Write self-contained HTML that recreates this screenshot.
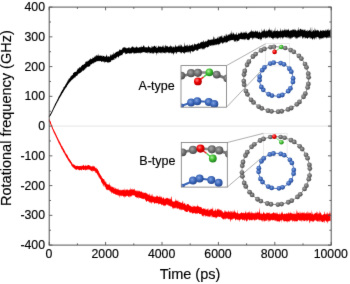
<!DOCTYPE html>
<html><head><meta charset="utf-8"><style>
html,body{margin:0;padding:0;background:#fff;width:350px;height:284px;overflow:hidden}
svg{display:block}
text{font-family:"Liberation Sans",Arial,sans-serif;fill:#000;stroke:#000;stroke-width:0.15px}
</style></head><body>
<svg width="350" height="284" viewBox="0 0 350 284">
<defs>
<radialGradient id="ggray" cx="0.4" cy="0.38" r="0.65"><stop offset="0" stop-color="#a8a8a8"/><stop offset="0.55" stop-color="#6e6e6e"/><stop offset="1" stop-color="#474747"/></radialGradient>
<radialGradient id="gblue" cx="0.4" cy="0.38" r="0.65"><stop offset="0" stop-color="#7fa2e0"/><stop offset="0.55" stop-color="#3a65b8"/><stop offset="1" stop-color="#22448a"/></radialGradient>
<radialGradient id="gred" cx="0.38" cy="0.35" r="0.65"><stop offset="0" stop-color="#ff8080"/><stop offset="0.5" stop-color="#f00000"/><stop offset="1" stop-color="#b00000"/></radialGradient>
<radialGradient id="ggreen" cx="0.38" cy="0.35" r="0.65"><stop offset="0" stop-color="#b0f0a0"/><stop offset="0.5" stop-color="#40c030"/><stop offset="1" stop-color="#208020"/></radialGradient>
<filter id="bl" x="0" y="0" width="1" height="1" color-interpolation-filters="sRGB"><feConvolveMatrix order="3" kernelMatrix="0.0052 0.0619 0.0052 0.0619 0.7314 0.0619 0.0052 0.0619 0.0052" edgeMode="duplicate"/></filter></defs>
<rect width="350" height="284" fill="#fff"/>
<g filter="url(#bl)">
<rect width="350" height="284" fill="#fff"/>
<line x1="49.2" y1="126.10" x2="331.2" y2="126.10" stroke="#e0e0e0" stroke-width="0.8"/>
<polygon points="48.9,115.8 49.2,115.4 49.5,115.1 49.8,114.7 50.1,114.3 50.4,113.7 50.7,113.2 51.0,112.5 51.3,112.2 51.6,111.5 51.9,110.9 52.2,110.2 52.5,109.8 52.8,109.0 53.1,108.3 53.4,107.8 53.7,106.7 54.0,106.4 54.3,105.8 54.6,105.2 54.9,104.3 55.2,103.7 55.5,103.1 55.8,102.7 56.1,102.2 56.4,101.6 56.7,101.0 57.0,100.5 57.3,99.8 57.6,99.0 57.9,98.7 58.2,97.9 58.5,96.8 58.8,96.7 59.1,96.1 59.4,95.5 59.7,95.2 60.0,94.4 60.3,94.0 60.6,93.2 60.9,92.6 61.2,91.8 61.5,91.7 61.8,91.1 62.1,90.3 62.4,90.1 62.7,89.4 63.0,89.3 63.3,88.6 63.6,87.0 63.9,87.2 64.2,87.0 64.5,86.6 64.8,86.0 65.1,85.5 65.4,84.9 65.7,84.3 66.0,84.1 66.3,83.5 66.6,82.8 66.9,82.5 67.2,81.9 67.5,81.3 67.8,80.2 68.1,80.7 68.4,79.4 68.7,79.3 69.0,78.3 69.3,78.8 69.6,78.3 69.9,78.0 70.2,77.6 70.5,77.1 70.8,76.0 71.1,76.4 71.4,75.1 71.7,76.0 72.0,75.4 72.3,74.9 72.6,74.9 72.9,74.5 73.2,72.7 73.5,73.0 73.8,73.0 74.1,72.1 74.4,72.6 74.7,72.0 75.0,72.0 75.3,72.1 75.6,71.4 75.9,71.9 76.2,71.7 76.5,71.5 76.8,70.7 77.1,69.7 77.4,70.1 77.7,68.5 78.0,68.7 78.3,68.6 78.6,68.5 78.9,68.2 79.2,68.3 79.5,67.1 79.8,66.9 80.1,67.8 80.4,67.3 80.7,67.3 81.0,66.6 81.3,65.6 81.6,65.9 81.9,66.5 82.2,64.6 82.5,65.1 82.8,65.0 83.1,64.7 83.4,64.9 83.7,64.4 84.0,64.3 84.3,64.1 84.6,63.9 84.9,63.4 85.2,63.5 85.5,61.4 85.8,61.8 86.1,62.3 86.4,60.8 86.7,61.8 87.0,61.8 87.3,61.9 87.6,60.6 87.9,61.0 88.2,60.6 88.5,61.2 88.8,60.6 89.1,59.3 89.4,59.3 89.7,60.6 90.0,59.6 90.3,59.2 90.6,58.1 90.9,58.8 91.2,59.2 91.5,58.9 91.8,59.0 92.1,58.6 92.4,58.7 92.7,57.7 93.0,56.8 93.3,58.3 93.6,57.7 93.9,57.8 94.2,57.5 94.5,56.6 94.8,56.5 95.1,56.2 95.4,56.7 95.7,56.3 96.0,54.9 96.3,54.7 96.6,55.5 96.9,56.4 97.2,54.5 97.5,55.6 97.8,55.9 98.1,56.1 98.4,55.7 98.7,53.5 99.0,55.6 99.3,55.5 99.6,55.8 99.9,56.0 100.2,55.1 100.5,55.9 100.8,55.4 101.1,56.1 101.4,55.3 101.7,56.0 102.0,55.9 102.3,55.0 102.6,56.7 102.9,56.4 103.2,56.1 103.5,55.9 103.8,55.8 104.1,55.8 104.4,57.1 104.7,56.3 105.0,56.4 105.3,56.4 105.6,57.0 105.9,56.3 106.2,55.9 106.5,53.9 106.8,55.2 107.1,56.9 107.4,55.6 107.7,57.4 108.0,56.3 108.3,56.7 108.6,56.0 108.9,56.5 109.2,55.7 109.5,57.2 109.8,57.0 110.1,55.9 110.4,54.6 110.7,53.9 111.0,56.1 111.3,55.6 111.6,54.8 111.9,54.5 112.2,54.3 112.5,54.9 112.8,54.1 113.1,54.8 113.4,54.3 113.7,52.1 114.0,53.6 114.3,53.9 114.6,53.5 114.9,53.2 115.2,52.4 115.5,52.9 115.8,52.5 116.1,51.5 116.4,51.9 116.7,52.1 117.0,52.3 117.3,51.1 117.6,51.4 117.9,51.7 118.2,51.5 118.5,51.1 118.8,51.5 119.1,49.8 119.4,50.4 119.7,49.5 120.0,48.7 120.3,50.0 120.6,50.2 120.9,49.7 121.2,49.2 121.5,49.9 121.8,50.0 122.1,49.6 122.4,47.5 122.7,48.7 123.0,47.4 123.3,47.6 123.6,47.8 123.9,47.3 124.2,47.1 124.5,47.4 124.8,47.4 125.1,47.7 125.4,47.7 125.7,47.2 126.0,48.3 126.3,48.6 126.6,48.2 126.9,47.5 127.2,48.4 127.5,48.1 127.8,48.2 128.1,47.0 128.4,47.5 128.7,48.2 129.0,47.3 129.3,47.1 129.6,48.2 129.9,48.4 130.2,47.5 130.5,48.2 130.8,48.4 131.1,47.6 131.4,46.8 131.7,48.1 132.0,46.5 132.3,47.0 132.6,46.2 132.9,46.4 133.2,46.9 133.5,47.9 133.8,46.6 134.1,47.7 134.4,47.2 134.7,48.0 135.0,47.4 135.3,46.8 135.6,47.9 135.9,47.7 136.2,45.4 136.5,47.1 136.8,47.2 137.1,47.3 137.4,47.7 137.7,46.7 138.0,48.1 138.3,47.9 138.6,47.8 138.9,47.1 139.2,47.6 139.5,47.3 139.8,46.9 140.1,46.8 140.4,47.7 140.7,46.8 141.0,46.8 141.3,47.7 141.6,45.3 141.9,46.9 142.2,47.1 142.5,46.7 142.8,47.3 143.1,46.3 143.4,44.7 143.7,46.3 144.0,45.3 144.3,46.5 144.6,46.5 144.9,47.7 145.2,47.4 145.5,47.3 145.8,47.1 146.1,47.3 146.4,46.9 146.7,47.7 147.0,47.1 147.3,47.3 147.6,47.4 147.9,47.7 148.2,45.0 148.5,46.8 148.8,46.0 149.1,47.2 149.4,47.3 149.7,47.2 150.0,47.0 150.3,46.9 150.6,48.4 150.9,47.8 151.2,47.9 151.5,47.6 151.8,45.5 152.1,46.6 152.4,47.7 152.7,46.5 153.0,46.0 153.3,47.3 153.6,46.3 153.9,46.6 154.2,46.1 154.5,45.8 154.8,45.5 155.1,46.4 155.4,47.2 155.7,46.0 156.0,46.8 156.3,45.3 156.6,47.9 156.9,48.1 157.2,47.7 157.5,47.4 157.8,47.5 158.1,45.7 158.4,45.4 158.7,46.9 159.0,46.2 159.3,46.9 159.6,46.1 159.9,47.1 160.2,46.8 160.5,46.2 160.8,46.6 161.1,47.0 161.4,47.1 161.7,47.6 162.0,45.2 162.3,46.7 162.6,46.9 162.9,45.3 163.2,46.9 163.5,47.4 163.8,44.5 164.1,46.3 164.4,46.2 164.7,48.0 165.0,47.9 165.3,44.8 165.6,46.6 165.9,44.3 166.2,46.5 166.5,45.8 166.8,46.6 167.1,46.4 167.4,45.8 167.7,46.0 168.0,47.3 168.3,47.2 168.6,46.5 168.9,47.2 169.2,47.1 169.5,46.3 169.8,46.2 170.1,47.6 170.4,44.4 170.7,46.0 171.0,46.1 171.3,47.0 171.6,46.0 171.9,46.6 172.2,46.2 172.5,47.4 172.8,47.9 173.1,46.0 173.4,46.7 173.7,47.2 174.0,47.0 174.3,47.5 174.6,47.5 174.9,45.8 175.2,47.1 175.5,44.7 175.8,44.8 176.1,46.9 176.4,47.1 176.7,46.0 177.0,46.2 177.3,46.8 177.6,46.4 177.9,46.2 178.2,46.3 178.5,46.2 178.8,45.0 179.1,44.6 179.4,46.4 179.7,46.4 180.0,44.6 180.3,46.6 180.6,46.5 180.9,43.8 181.2,45.0 181.5,44.7 181.8,46.3 182.1,46.5 182.4,46.3 182.7,46.5 183.0,47.4 183.3,46.2 183.6,46.9 183.9,46.5 184.2,44.6 184.5,42.0 184.8,46.8 185.1,45.4 185.4,46.3 185.7,45.4 186.0,45.6 186.3,44.8 186.6,46.7 186.9,45.2 187.2,46.7 187.5,44.2 187.8,44.8 188.1,46.2 188.4,45.2 188.7,46.5 189.0,46.3 189.3,44.0 189.6,45.0 189.9,46.3 190.2,45.2 190.5,45.7 190.8,45.8 191.1,44.9 191.4,44.9 191.7,45.7 192.0,44.7 192.3,44.0 192.6,44.4 192.9,45.5 193.2,46.7 193.5,45.3 193.8,44.8 194.1,44.4 194.4,43.8 194.7,42.9 195.0,45.0 195.3,44.1 195.6,44.0 195.9,44.5 196.2,44.4 196.5,44.6 196.8,44.5 197.1,43.7 197.4,44.0 197.7,44.1 198.0,42.6 198.3,43.4 198.6,42.5 198.9,44.0 199.2,43.3 199.5,43.9 199.8,43.5 200.1,42.0 200.4,42.8 200.7,42.7 201.0,42.5 201.3,41.2 201.6,41.9 201.9,42.5 202.2,41.5 202.5,41.7 202.8,41.9 203.1,42.8 203.4,40.2 203.7,40.4 204.0,41.4 204.3,41.8 204.6,42.4 204.9,41.8 205.2,41.9 205.5,40.4 205.8,41.3 206.1,41.5 206.4,41.7 206.7,40.4 207.0,41.7 207.3,38.9 207.6,40.7 207.9,41.1 208.2,38.9 208.5,39.7 208.8,39.5 209.1,39.8 209.4,40.2 209.7,40.2 210.0,39.0 210.3,40.0 210.6,39.7 210.9,39.8 211.2,39.5 211.5,39.4 211.8,39.7 212.1,39.1 212.4,39.7 212.7,39.7 213.0,38.7 213.3,36.8 213.6,36.1 213.9,39.7 214.2,39.7 214.5,38.5 214.8,36.7 215.1,38.5 215.4,39.1 215.7,39.1 216.0,38.6 216.3,38.8 216.6,39.3 216.9,38.1 217.2,37.5 217.5,38.4 217.8,36.9 218.1,36.0 218.4,37.6 218.7,38.9 219.0,37.9 219.3,35.7 219.6,37.5 219.9,36.9 220.2,36.1 220.5,37.0 220.8,36.2 221.1,35.7 221.4,36.4 221.7,36.6 222.0,34.3 222.3,36.8 222.6,37.4 222.9,38.1 223.2,38.1 223.5,37.1 223.8,35.9 224.1,35.2 224.4,35.8 224.7,35.9 225.0,36.5 225.3,36.6 225.6,36.2 225.9,33.6 226.2,35.0 226.5,36.1 226.8,33.5 227.1,34.4 227.4,35.6 227.7,36.0 228.0,35.8 228.3,34.3 228.6,34.2 228.9,35.3 229.2,33.4 229.5,34.7 229.8,34.5 230.1,34.9 230.4,33.9 230.7,32.5 231.0,33.3 231.3,33.7 231.6,30.0 231.9,33.9 232.2,34.8 232.5,31.7 232.8,34.8 233.1,33.4 233.4,32.3 233.7,33.2 234.0,33.9 234.3,33.8 234.6,33.9 234.9,35.6 235.2,33.6 235.5,34.9 235.8,34.0 236.1,35.1 236.4,33.6 236.7,31.4 237.0,34.8 237.3,35.0 237.6,34.9 237.9,34.1 238.2,32.2 238.5,34.5 238.8,33.1 239.1,33.9 239.4,33.5 239.7,33.3 240.0,33.4 240.3,33.0 240.6,33.6 240.9,31.4 241.2,31.8 241.5,32.3 241.8,33.0 242.1,33.2 242.4,32.3 242.7,33.0 243.0,34.2 243.3,31.3 243.6,32.7 243.9,33.0 244.2,32.5 244.5,32.8 244.8,32.3 245.1,32.8 245.4,32.9 245.7,30.7 246.0,33.0 246.3,32.9 246.6,32.4 246.9,31.1 247.2,33.2 247.5,33.9 247.8,33.9 248.1,32.5 248.4,33.5 248.7,32.8 249.0,33.6 249.3,31.9 249.6,32.3 249.9,32.3 250.2,31.3 250.5,31.5 250.8,31.7 251.1,31.9 251.4,30.8 251.7,29.3 252.0,31.2 252.3,31.2 252.6,31.4 252.9,31.4 253.2,30.2 253.5,32.0 253.8,31.4 254.1,32.2 254.4,31.7 254.7,31.2 255.0,32.0 255.3,30.3 255.6,31.8 255.9,30.1 256.2,31.6 256.5,31.2 256.8,32.2 257.1,31.5 257.4,31.5 257.7,30.2 258.0,32.0 258.3,32.7 258.6,32.8 258.9,31.7 259.2,32.1 259.5,32.2 259.8,30.2 260.1,32.7 260.4,32.7 260.7,32.5 261.0,32.5 261.3,31.9 261.6,32.3 261.9,28.0 262.2,32.0 262.5,30.3 262.8,31.3 263.1,31.3 263.4,30.0 263.7,31.6 264.0,28.3 264.3,31.0 264.6,28.4 264.9,30.4 265.2,31.0 265.5,31.2 265.8,31.9 266.1,28.9 266.4,31.5 266.7,30.7 267.0,30.7 267.3,31.3 267.6,31.3 267.9,30.2 268.2,29.4 268.5,29.8 268.8,30.9 269.1,27.1 269.4,29.9 269.7,29.3 270.0,30.4 270.3,30.7 270.6,30.3 270.9,29.4 271.2,29.4 271.5,30.4 271.8,31.7 272.1,29.5 272.4,31.8 272.7,32.8 273.0,30.4 273.3,32.0 273.6,30.4 273.9,31.1 274.2,31.2 274.5,30.4 274.8,29.7 275.1,26.8 275.4,31.7 275.7,31.1 276.0,31.0 276.3,30.7 276.6,31.1 276.9,30.9 277.2,31.5 277.5,29.3 277.8,30.3 278.1,31.3 278.4,31.1 278.7,31.4 279.0,30.8 279.3,31.6 279.6,30.8 279.9,31.5 280.2,30.0 280.5,27.7 280.8,31.3 281.1,29.7 281.4,31.6 281.7,31.2 282.0,30.6 282.3,29.1 282.6,30.9 282.9,30.2 283.2,30.7 283.5,30.4 283.8,30.7 284.1,27.9 284.4,30.5 284.7,30.0 285.0,29.8 285.3,31.1 285.6,28.6 285.9,30.5 286.2,30.6 286.5,30.3 286.8,28.8 287.1,30.3 287.4,30.4 287.7,29.4 288.0,29.6 288.3,30.1 288.6,28.3 288.9,30.3 289.2,30.5 289.5,31.2 289.8,30.9 290.1,30.6 290.4,30.0 290.7,31.3 291.0,29.7 291.3,30.3 291.6,30.3 291.9,30.5 292.2,29.7 292.5,28.7 292.8,31.1 293.1,29.6 293.4,29.3 293.7,29.8 294.0,30.2 294.3,28.3 294.6,30.7 294.9,29.9 295.2,30.0 295.5,28.9 295.8,30.6 296.1,29.9 296.4,31.6 296.7,30.1 297.0,31.2 297.3,30.6 297.6,30.6 297.9,29.2 298.2,26.6 298.5,30.4 298.8,29.6 299.1,30.4 299.4,30.7 299.7,28.9 300.0,29.4 300.3,28.3 300.6,29.0 300.9,29.3 301.2,29.7 301.5,29.0 301.8,30.2 302.1,30.0 302.4,30.1 302.7,29.7 303.0,28.5 303.3,30.1 303.6,30.4 303.9,30.6 304.2,29.4 304.5,29.5 304.8,30.1 305.1,30.9 305.4,31.2 305.7,28.8 306.0,30.9 306.3,30.6 306.6,30.8 306.9,31.0 307.2,31.9 307.5,29.9 307.8,29.8 308.1,31.0 308.4,31.0 308.7,30.9 309.0,29.4 309.3,30.7 309.6,30.1 309.9,30.3 310.2,26.8 310.5,30.6 310.8,31.4 311.1,29.8 311.4,31.9 311.7,32.0 312.0,26.2 312.3,31.8 312.6,31.2 312.9,31.2 313.2,30.3 313.5,30.3 313.8,30.1 314.1,31.0 314.4,27.2 314.7,31.3 315.0,31.5 315.3,29.9 315.6,30.3 315.9,28.6 316.2,30.5 316.5,30.5 316.8,30.8 317.1,30.6 317.4,29.6 317.7,30.3 318.0,30.8 318.3,30.8 318.6,30.3 318.9,30.4 319.2,31.8 319.5,31.0 319.8,32.4 320.1,31.1 320.4,30.5 320.7,29.6 321.0,31.3 321.3,30.4 321.6,30.5 321.9,31.3 322.2,30.0 322.5,31.8 322.8,30.1 323.1,30.6 323.4,30.4 323.7,30.3 324.0,30.7 324.3,31.0 324.6,30.9 324.9,29.9 325.2,30.6 325.5,29.0 325.8,31.4 326.1,30.1 326.4,31.3 326.7,30.8 327.0,28.7 327.3,30.6 327.6,29.2 327.9,30.3 328.2,30.9 328.5,28.0 328.8,30.8 329.1,29.7 329.4,30.0 329.7,31.0 330.0,30.0 330.3,28.8 330.6,30.5 330.6,37.2 330.3,38.0 330.0,37.1 329.7,37.4 329.4,37.5 329.1,37.3 328.8,37.1 328.5,37.5 328.2,38.2 327.9,37.8 327.6,37.2 327.3,37.5 327.0,38.5 326.7,37.0 326.4,38.5 326.1,38.4 325.8,37.7 325.5,37.6 325.2,36.9 324.9,36.8 324.6,37.9 324.3,37.3 324.0,38.0 323.7,37.1 323.4,38.0 323.1,38.8 322.8,38.3 322.5,38.2 322.2,38.3 321.9,37.8 321.6,38.8 321.3,39.1 321.0,37.7 320.7,39.0 320.4,37.7 320.1,39.8 319.8,39.9 319.5,37.8 319.2,38.7 318.9,38.2 318.6,38.2 318.3,37.2 318.0,36.9 317.7,36.9 317.4,37.5 317.1,36.7 316.8,36.9 316.5,39.8 316.2,37.1 315.9,37.2 315.6,37.7 315.3,38.9 315.0,37.2 314.7,40.2 314.4,37.7 314.1,40.0 313.8,37.8 313.5,38.0 313.2,38.7 312.9,39.6 312.6,39.0 312.3,40.3 312.0,38.3 311.7,38.2 311.4,38.2 311.1,38.4 310.8,39.1 310.5,38.2 310.2,37.2 309.9,36.8 309.6,38.9 309.3,37.1 309.0,37.9 308.7,37.1 308.4,38.2 308.1,37.8 307.8,38.2 307.5,38.5 307.2,39.2 306.9,38.2 306.6,38.0 306.3,37.6 306.0,38.1 305.7,37.9 305.4,39.1 305.1,37.3 304.8,37.1 304.5,39.1 304.2,36.8 303.9,37.1 303.6,37.3 303.3,38.2 303.0,38.5 302.7,36.8 302.4,38.5 302.1,39.3 301.8,36.6 301.5,36.4 301.2,35.9 300.9,35.9 300.6,36.3 300.3,37.8 300.0,37.4 299.7,36.5 299.4,36.8 299.1,38.1 298.8,37.2 298.5,37.2 298.2,37.5 297.9,37.6 297.6,37.6 297.3,39.2 297.0,37.6 296.7,38.1 296.4,39.4 296.1,37.8 295.8,37.5 295.5,39.3 295.2,37.0 294.9,36.8 294.6,36.5 294.3,38.2 294.0,36.4 293.7,37.4 293.4,36.8 293.1,36.8 292.8,37.4 292.5,37.7 292.2,37.4 291.9,39.2 291.6,37.3 291.3,37.5 291.0,38.7 290.7,39.5 290.4,37.7 290.1,37.7 289.8,39.8 289.5,37.3 289.2,37.7 288.9,39.1 288.6,37.4 288.3,36.9 288.0,38.0 287.7,35.9 287.4,38.2 287.1,38.1 286.8,36.9 286.5,38.6 286.2,37.0 285.9,37.0 285.6,37.7 285.3,37.5 285.0,36.7 284.7,37.3 284.4,37.4 284.1,36.0 283.8,37.8 283.5,37.0 283.2,38.8 282.9,37.3 282.6,39.6 282.3,38.2 282.0,37.6 281.7,37.1 281.4,37.2 281.1,38.1 280.8,37.7 280.5,36.8 280.2,39.8 279.9,37.8 279.6,37.5 279.3,37.5 279.0,37.6 278.7,38.1 278.4,37.6 278.1,39.2 277.8,37.5 277.5,39.6 277.2,38.8 276.9,37.8 276.6,38.9 276.3,37.8 276.0,37.2 275.7,39.2 275.4,37.3 275.1,37.3 274.8,37.9 274.5,37.2 274.2,38.6 273.9,37.9 273.6,38.1 273.3,40.2 273.0,38.3 272.7,39.4 272.4,38.7 272.1,38.1 271.8,38.0 271.5,38.0 271.2,37.8 270.9,38.6 270.6,37.6 270.3,36.5 270.0,37.2 269.7,37.3 269.4,38.6 269.1,36.9 268.8,36.6 268.5,38.6 268.2,36.1 267.9,37.6 267.6,38.6 267.3,37.1 267.0,37.5 266.7,37.9 266.4,37.5 266.1,38.5 265.8,39.3 265.5,38.1 265.2,37.3 264.9,38.7 264.6,37.2 264.3,36.7 264.0,38.2 263.7,38.6 263.4,37.3 263.1,37.6 262.8,37.2 262.5,37.7 262.2,37.7 261.9,39.5 261.6,38.7 261.3,38.9 261.0,41.4 260.7,38.4 260.4,39.4 260.1,40.0 259.8,38.1 259.5,38.5 259.2,39.7 258.9,39.3 258.6,39.0 258.3,39.1 258.0,39.1 257.7,38.7 257.4,37.8 257.1,38.4 256.8,38.1 256.5,38.8 256.2,37.9 255.9,37.2 255.6,37.8 255.3,37.9 255.0,39.2 254.7,37.4 254.4,37.8 254.1,37.5 253.8,38.8 253.5,37.5 253.2,38.5 252.9,40.3 252.6,39.2 252.3,38.3 252.0,37.4 251.7,38.3 251.4,37.3 251.1,38.6 250.8,38.0 250.5,37.8 250.2,37.8 249.9,38.7 249.6,39.7 249.3,39.2 249.0,39.5 248.7,40.4 248.4,39.9 248.1,39.5 247.8,40.2 247.5,39.8 247.2,39.8 246.9,38.4 246.6,38.2 246.3,39.2 246.0,39.8 245.7,39.0 245.4,40.0 245.1,38.2 244.8,39.3 244.5,39.3 244.2,40.4 243.9,39.4 243.6,38.7 243.3,39.2 243.0,40.4 242.7,39.1 242.4,39.4 242.1,38.9 241.8,38.9 241.5,39.4 241.2,39.3 240.9,38.4 240.6,39.3 240.3,38.9 240.0,39.2 239.7,39.2 239.4,39.6 239.1,40.7 238.8,40.5 238.5,40.8 238.2,40.8 237.9,41.0 237.6,41.4 237.3,41.5 237.0,40.5 236.7,40.1 236.4,40.6 236.1,42.8 235.8,40.5 235.5,41.0 235.2,42.0 234.9,41.6 234.6,42.2 234.3,40.3 234.0,41.5 233.7,40.3 233.4,39.8 233.1,39.7 232.8,40.3 232.5,39.9 232.2,39.9 231.9,40.1 231.6,40.5 231.3,39.9 231.0,39.9 230.7,40.6 230.4,40.9 230.1,40.1 229.8,40.4 229.5,42.1 229.2,40.3 228.9,40.8 228.6,41.5 228.3,40.9 228.0,40.9 227.7,42.6 227.4,42.0 227.1,42.2 226.8,42.8 226.5,42.2 226.2,42.2 225.9,43.4 225.6,42.0 225.3,41.6 225.0,42.4 224.7,42.1 224.4,42.1 224.1,43.0 223.8,42.6 223.5,42.6 223.2,43.6 222.9,43.6 222.6,43.4 222.3,44.1 222.0,42.3 221.7,42.9 221.4,42.4 221.1,42.5 220.8,42.5 220.5,43.3 220.2,43.8 219.9,43.5 219.6,44.7 219.3,43.9 219.0,44.1 218.7,44.0 218.4,45.8 218.1,44.4 217.8,44.3 217.5,44.0 217.2,44.8 216.9,44.3 216.6,44.4 216.3,45.3 216.0,45.0 215.7,45.5 215.4,44.3 215.1,44.5 214.8,44.9 214.5,44.6 214.2,45.7 213.9,45.3 213.6,45.2 213.3,45.8 213.0,44.6 212.7,45.0 212.4,46.4 212.1,45.1 211.8,45.9 211.5,44.8 211.2,45.5 210.9,46.2 210.6,45.6 210.3,45.9 210.0,45.2 209.7,45.1 209.4,46.3 209.1,46.5 208.8,46.9 208.5,46.6 208.2,46.7 207.9,47.3 207.6,47.3 207.3,47.7 207.0,47.1 206.7,47.1 206.4,47.1 206.1,47.5 205.8,48.5 205.5,47.4 205.2,47.4 204.9,48.3 204.6,49.1 204.3,48.1 204.0,50.6 203.7,48.9 203.4,48.2 203.1,49.1 202.8,48.7 202.5,48.5 202.2,50.2 201.9,47.9 201.6,48.7 201.3,48.0 201.0,49.9 200.7,48.5 200.4,48.6 200.1,48.4 199.8,49.2 199.5,48.7 199.2,49.0 198.9,49.3 198.6,49.6 198.3,49.2 198.0,51.0 197.7,50.6 197.4,51.0 197.1,49.8 196.8,49.5 196.5,50.4 196.2,51.2 195.9,49.8 195.6,49.8 195.3,50.0 195.0,50.2 194.7,50.9 194.4,50.3 194.1,51.2 193.8,51.0 193.5,51.3 193.2,51.9 192.9,52.3 192.6,51.2 192.3,51.4 192.0,52.1 191.7,50.7 191.4,50.9 191.1,51.0 190.8,51.5 190.5,54.1 190.2,53.3 189.9,51.2 189.6,51.6 189.3,52.2 189.0,52.9 188.7,52.5 188.4,51.2 188.1,52.1 187.8,52.2 187.5,51.3 187.2,52.9 186.9,51.9 186.6,52.3 186.3,52.4 186.0,51.8 185.7,52.2 185.4,52.2 185.1,53.2 184.8,52.2 184.5,54.0 184.2,53.7 183.9,52.9 183.6,53.2 183.3,52.6 183.0,52.8 182.7,52.1 182.4,52.2 182.1,52.1 181.8,52.4 181.5,53.2 181.2,53.4 180.9,53.5 180.6,52.8 180.3,51.9 180.0,52.2 179.7,51.8 179.4,52.6 179.1,51.6 178.8,51.7 178.5,52.2 178.2,52.0 177.9,51.8 177.6,52.0 177.3,52.3 177.0,52.8 176.7,52.6 176.4,54.2 176.1,53.4 175.8,53.4 175.5,52.1 175.2,51.9 174.9,52.2 174.6,52.6 174.3,53.0 174.0,53.8 173.7,55.7 173.4,53.1 173.1,54.1 172.8,53.4 172.5,52.4 172.2,53.5 171.9,52.7 171.6,54.0 171.3,53.2 171.0,52.1 170.7,52.7 170.4,52.5 170.1,52.9 169.8,53.8 169.5,52.5 169.2,52.7 168.9,52.2 168.6,52.7 168.3,53.3 168.0,53.4 167.7,52.0 167.4,52.3 167.1,52.2 166.8,52.6 166.5,52.3 166.2,53.0 165.9,51.9 165.6,52.6 165.3,53.6 165.0,54.1 164.7,52.8 164.4,53.1 164.1,52.8 163.8,52.6 163.5,53.1 163.2,52.8 162.9,52.7 162.6,52.0 162.3,52.6 162.0,54.4 161.7,52.8 161.4,52.5 161.1,52.5 160.8,53.1 160.5,53.4 160.2,52.5 159.9,52.2 159.6,53.1 159.3,52.4 159.0,52.8 158.7,54.1 158.4,51.8 158.1,52.3 157.8,53.3 157.5,53.0 157.2,52.6 156.9,56.0 156.6,53.7 156.3,53.3 156.0,52.7 155.7,52.7 155.4,53.0 155.1,52.3 154.8,52.7 154.5,52.1 154.2,53.1 153.9,54.1 153.6,53.2 153.3,53.6 153.0,52.5 152.7,54.3 152.4,53.3 152.1,52.5 151.8,52.6 151.5,52.6 151.2,53.7 150.9,53.0 150.6,53.6 150.3,53.1 150.0,53.1 149.7,53.8 149.4,52.0 149.1,52.6 148.8,52.0 148.5,52.6 148.2,52.8 147.9,54.1 147.6,52.5 147.3,52.5 147.0,52.6 146.7,52.7 146.4,53.0 146.1,52.7 145.8,52.5 145.5,52.7 145.2,52.4 144.9,52.8 144.6,52.2 144.3,51.9 144.0,51.9 143.7,52.0 143.4,52.0 143.1,52.7 142.8,52.8 142.5,52.0 142.2,52.3 141.9,53.0 141.6,52.8 141.3,52.7 141.0,52.6 140.7,52.4 140.4,53.5 140.1,53.8 139.8,52.9 139.5,52.7 139.2,52.7 138.9,53.1 138.6,52.6 138.3,53.7 138.0,52.6 137.7,52.8 137.4,53.1 137.1,53.2 136.8,53.0 136.5,52.7 136.2,53.7 135.9,52.9 135.6,53.4 135.3,52.9 135.0,53.5 134.7,53.5 134.4,53.6 134.1,53.3 133.8,52.6 133.5,54.4 133.2,52.6 132.9,52.7 132.6,52.8 132.3,52.2 132.0,53.4 131.7,53.3 131.4,53.3 131.1,53.6 130.8,53.7 130.5,53.1 130.2,53.5 129.9,53.3 129.6,53.6 129.3,54.3 129.0,52.8 128.7,53.2 128.4,53.1 128.1,53.6 127.8,53.1 127.5,53.3 127.2,53.7 126.9,53.8 126.6,53.8 126.3,53.8 126.0,53.9 125.7,53.0 125.4,54.0 125.1,54.4 124.8,53.1 124.5,52.3 124.2,52.4 123.9,53.2 123.6,52.6 123.3,52.8 123.0,53.4 122.7,54.0 122.4,54.6 122.1,55.6 121.8,55.1 121.5,54.9 121.2,54.9 120.9,56.3 120.6,55.0 120.3,55.3 120.0,56.2 119.7,55.4 119.4,56.1 119.1,56.2 118.8,58.5 118.5,57.2 118.2,57.1 117.9,56.2 117.6,56.8 117.3,56.9 117.0,56.8 116.7,57.3 116.4,58.8 116.1,57.4 115.8,59.2 115.5,58.6 115.2,58.3 114.9,58.1 114.6,58.1 114.3,60.0 114.0,60.1 113.7,59.3 113.4,59.8 113.1,59.9 112.8,60.4 112.5,60.2 112.2,59.8 111.9,60.1 111.6,59.9 111.3,60.7 111.0,61.6 110.7,62.0 110.4,61.7 110.1,61.9 109.8,62.0 109.5,62.6 109.2,62.2 108.9,62.4 108.6,61.9 108.3,63.0 108.0,62.4 107.7,62.8 107.4,62.2 107.1,62.5 106.8,62.1 106.5,61.6 106.2,62.1 105.9,62.3 105.6,61.9 105.3,62.2 105.0,61.4 104.7,61.5 104.4,63.4 104.1,62.1 103.8,61.5 103.5,62.2 103.2,61.2 102.9,61.4 102.6,61.7 102.3,61.0 102.0,61.4 101.7,61.9 101.4,61.4 101.1,61.9 100.8,60.7 100.5,60.9 100.2,60.9 99.9,61.1 99.6,61.4 99.3,60.6 99.0,61.8 98.7,60.7 98.4,61.3 98.1,60.8 97.8,61.6 97.5,61.0 97.2,61.3 96.9,61.3 96.6,61.4 96.3,61.3 96.0,61.9 95.7,61.8 95.4,62.4 95.1,61.9 94.8,62.9 94.5,62.0 94.2,62.5 93.9,62.4 93.6,63.2 93.3,63.7 93.0,63.2 92.7,63.1 92.4,63.5 92.1,64.1 91.8,63.9 91.5,64.3 91.2,64.6 90.9,64.3 90.6,64.6 90.3,65.5 90.0,66.1 89.7,66.2 89.4,66.1 89.1,67.0 88.8,66.6 88.5,66.9 88.2,66.6 87.9,66.7 87.6,66.6 87.3,67.1 87.0,66.8 86.7,67.2 86.4,67.7 86.1,68.6 85.8,68.2 85.5,68.0 85.2,69.3 84.9,70.1 84.6,69.3 84.3,69.7 84.0,69.6 83.7,70.9 83.4,71.0 83.1,70.2 82.8,70.6 82.5,70.6 82.2,71.2 81.9,71.7 81.6,71.8 81.3,71.8 81.0,72.4 80.7,72.6 80.4,73.1 80.1,72.7 79.8,73.1 79.5,72.9 79.2,73.9 78.9,73.4 78.6,73.6 78.3,74.3 78.0,74.0 77.7,74.9 77.4,75.2 77.1,75.9 76.8,75.6 76.5,76.1 76.2,76.1 75.9,76.4 75.6,76.5 75.3,77.4 75.0,77.8 74.7,77.2 74.4,77.9 74.1,77.5 73.8,78.4 73.5,78.6 73.2,78.4 72.9,78.9 72.6,79.3 72.3,79.7 72.0,79.8 71.7,80.1 71.4,80.4 71.1,80.6 70.8,81.5 70.5,81.3 70.2,81.5 69.9,81.9 69.6,82.3 69.3,82.7 69.0,83.3 68.7,83.5 68.4,83.8 68.1,84.3 67.8,84.9 67.5,84.9 67.2,85.6 66.9,87.0 66.6,86.5 66.3,87.4 66.0,87.6 65.7,88.0 65.4,88.4 65.1,88.8 64.8,89.5 64.5,89.8 64.2,90.3 63.9,90.7 63.6,91.5 63.3,91.7 63.0,92.5 62.7,93.1 62.4,93.3 62.1,93.5 61.8,94.0 61.5,95.4 61.2,95.0 60.9,96.3 60.6,96.3 60.3,96.7 60.0,97.5 59.7,97.8 59.4,98.3 59.1,98.9 58.8,99.6 58.5,100.3 58.2,100.7 57.9,101.1 57.6,101.8 57.3,102.6 57.0,102.8 56.7,103.3 56.4,104.1 56.1,104.6 55.8,105.1 55.5,105.9 55.2,106.3 54.9,106.8 54.6,107.7 54.3,108.0 54.0,108.6 53.7,109.3 53.4,110.0 53.1,110.6 52.8,111.3 52.5,111.8 52.2,112.4 51.9,113.0 51.6,113.7 51.3,114.1 51.0,114.7 50.7,115.2 50.4,116.0 50.1,116.1 49.8,116.5 49.5,117.0 49.2,117.2 48.9,117.6" fill="#000"/>
<polygon points="48.9,118.8 49.2,119.1 49.5,119.7 49.8,120.0 50.1,120.9 50.4,121.6 50.7,121.0 51.0,123.1 51.3,123.9 51.6,124.5 51.9,125.2 52.2,126.2 52.5,126.8 52.8,127.5 53.1,128.5 53.4,129.0 53.7,129.5 54.0,130.3 54.3,130.7 54.6,131.4 54.9,131.8 55.2,132.5 55.5,133.3 55.8,133.5 56.1,134.5 56.4,135.1 56.7,135.5 57.0,136.6 57.3,136.9 57.6,137.5 57.9,138.3 58.2,138.8 58.5,139.5 58.8,140.3 59.1,140.4 59.4,140.9 59.7,141.7 60.0,141.9 60.3,143.0 60.6,143.6 60.9,143.7 61.2,144.8 61.5,145.4 61.8,145.9 62.1,145.9 62.4,146.4 62.7,147.6 63.0,148.3 63.3,148.4 63.6,148.5 63.9,149.5 64.2,150.1 64.5,150.5 64.8,151.3 65.1,151.8 65.4,152.5 65.7,153.2 66.0,153.6 66.3,154.0 66.6,154.1 66.9,154.8 67.2,154.8 67.5,155.4 67.8,156.1 68.1,156.7 68.4,157.6 68.7,158.1 69.0,158.4 69.3,158.8 69.6,159.3 69.9,159.6 70.2,160.0 70.5,160.8 70.8,160.5 71.1,161.7 71.4,162.1 71.7,162.3 72.0,162.9 72.3,163.5 72.6,163.9 72.9,164.5 73.2,164.6 73.5,164.6 73.8,164.1 74.1,164.7 74.4,165.1 74.7,164.7 75.0,165.4 75.3,165.5 75.6,165.8 75.9,166.3 76.2,166.1 76.5,166.0 76.8,165.8 77.1,165.8 77.4,165.8 77.7,166.1 78.0,165.7 78.3,166.3 78.6,166.2 78.9,166.1 79.2,166.1 79.5,166.3 79.8,165.9 80.1,166.1 80.4,165.8 80.7,166.1 81.0,166.5 81.3,166.0 81.6,165.8 81.9,165.8 82.2,166.1 82.5,165.7 82.8,165.4 83.1,164.7 83.4,164.7 83.7,165.0 84.0,166.0 84.3,166.0 84.6,165.5 84.9,166.2 85.2,166.1 85.5,164.6 85.8,165.6 86.1,165.9 86.4,165.7 86.7,165.7 87.0,165.4 87.3,164.9 87.6,165.7 87.9,165.5 88.2,165.1 88.5,165.0 88.8,165.0 89.1,165.6 89.4,165.3 89.7,165.6 90.0,165.9 90.3,166.3 90.6,166.4 90.9,165.5 91.2,166.6 91.5,166.3 91.8,166.7 92.1,166.9 92.4,166.2 92.7,166.1 93.0,165.3 93.3,166.3 93.6,166.3 93.9,166.4 94.2,166.4 94.5,166.0 94.8,167.0 95.1,167.1 95.4,167.9 95.7,168.3 96.0,167.7 96.3,168.5 96.6,167.3 96.9,169.5 97.2,169.4 97.5,168.8 97.8,169.1 98.1,171.1 98.4,170.5 98.7,170.8 99.0,172.8 99.3,172.5 99.6,173.5 99.9,173.8 100.2,174.6 100.5,175.2 100.8,174.9 101.1,175.9 101.4,176.2 101.7,176.5 102.0,178.4 102.3,178.0 102.6,177.8 102.9,178.7 103.2,178.9 103.5,179.1 103.8,178.9 104.1,180.3 104.4,178.7 104.7,181.6 105.0,181.5 105.3,181.3 105.6,183.1 105.9,181.1 106.2,182.3 106.5,183.9 106.8,183.4 107.1,184.4 107.4,183.9 107.7,184.5 108.0,184.4 108.3,184.8 108.6,184.6 108.9,184.5 109.2,182.0 109.5,185.5 109.8,184.0 110.1,185.8 110.4,184.7 110.7,186.9 111.0,185.8 111.3,186.0 111.6,187.4 111.9,186.7 112.2,187.4 112.5,186.8 112.8,186.6 113.1,186.9 113.4,187.8 113.7,187.5 114.0,187.4 114.3,187.1 114.6,188.9 114.9,189.1 115.2,187.6 115.5,188.1 115.8,189.0 116.1,188.5 116.4,189.5 116.7,189.1 117.0,188.3 117.3,189.0 117.6,189.6 117.9,189.3 118.2,188.1 118.5,189.5 118.8,189.9 119.1,189.8 119.4,189.8 119.7,190.3 120.0,189.9 120.3,190.8 120.6,189.5 120.9,189.8 121.2,190.4 121.5,189.3 121.8,190.6 122.1,189.9 122.4,189.6 122.7,190.0 123.0,190.5 123.3,189.3 123.6,189.8 123.9,190.1 124.2,190.6 124.5,187.8 124.8,190.8 125.1,188.8 125.4,190.4 125.7,190.6 126.0,189.5 126.3,189.2 126.6,189.8 126.9,190.2 127.2,190.2 127.5,188.7 127.8,189.7 128.1,189.8 128.4,190.7 128.7,189.6 129.0,190.2 129.3,189.1 129.6,189.7 129.9,190.3 130.2,189.8 130.5,189.5 130.8,187.3 131.1,189.2 131.4,189.3 131.7,189.8 132.0,188.9 132.3,189.7 132.6,190.1 132.9,188.0 133.2,190.0 133.5,189.4 133.8,189.3 134.1,189.3 134.4,188.5 134.7,189.6 135.0,190.7 135.3,190.7 135.6,190.4 135.9,190.6 136.2,189.9 136.5,191.5 136.8,191.2 137.1,189.8 137.4,191.0 137.7,191.8 138.0,190.6 138.3,190.6 138.6,191.7 138.9,191.1 139.2,191.8 139.5,190.6 139.8,190.9 140.1,190.7 140.4,191.7 140.7,192.1 141.0,191.9 141.3,191.6 141.6,191.5 141.9,191.2 142.2,192.3 142.5,192.6 142.8,192.8 143.1,192.3 143.4,192.2 143.7,193.7 144.0,192.4 144.3,192.7 144.6,192.8 144.9,193.3 145.2,193.1 145.5,193.2 145.8,191.8 146.1,193.3 146.4,192.7 146.7,193.6 147.0,194.2 147.3,194.5 147.6,192.9 147.9,194.5 148.2,195.1 148.5,194.0 148.8,195.0 149.1,194.3 149.4,193.0 149.7,196.2 150.0,193.6 150.3,195.9 150.6,195.6 150.9,196.3 151.2,196.2 151.5,194.0 151.8,195.3 152.1,196.4 152.4,196.2 152.7,193.5 153.0,195.6 153.3,196.7 153.6,196.7 153.9,196.3 154.2,196.0 154.5,197.4 154.8,196.7 155.1,196.4 155.4,196.8 155.7,197.2 156.0,196.8 156.3,196.2 156.6,194.9 156.9,197.1 157.2,195.4 157.5,196.7 157.8,195.5 158.1,196.5 158.4,197.3 158.7,196.7 159.0,197.2 159.3,195.1 159.6,197.0 159.9,197.0 160.2,198.1 160.5,195.6 160.8,196.9 161.1,197.2 161.4,196.2 161.7,196.8 162.0,198.5 162.3,198.5 162.6,198.6 162.9,197.5 163.2,197.4 163.5,197.2 163.8,197.5 164.1,199.3 164.4,197.9 164.7,199.4 165.0,198.4 165.3,199.0 165.6,199.0 165.9,197.5 166.2,197.8 166.5,198.4 166.8,197.9 167.1,198.1 167.4,197.5 167.7,198.4 168.0,197.9 168.3,198.4 168.6,198.5 168.9,199.1 169.2,199.3 169.5,199.5 169.8,197.4 170.1,199.0 170.4,199.3 170.7,199.4 171.0,197.1 171.3,196.3 171.6,197.2 171.9,200.1 172.2,200.5 172.5,201.3 172.8,201.6 173.1,201.6 173.4,201.8 173.7,201.2 174.0,202.0 174.3,202.0 174.6,201.1 174.9,201.0 175.2,200.7 175.5,198.1 175.8,200.7 176.1,201.2 176.4,200.6 176.7,200.7 177.0,199.3 177.3,201.4 177.6,200.9 177.9,200.8 178.2,200.2 178.5,201.7 178.8,202.2 179.1,202.4 179.4,201.4 179.7,202.2 180.0,201.6 180.3,202.7 180.6,202.3 180.9,202.7 181.2,202.7 181.5,203.2 181.8,202.6 182.1,203.6 182.4,201.4 182.7,201.8 183.0,200.4 183.3,203.7 183.6,203.8 183.9,204.0 184.2,203.3 184.5,203.6 184.8,202.5 185.1,204.9 185.4,204.8 185.7,204.6 186.0,202.5 186.3,205.7 186.6,205.2 186.9,204.4 187.2,204.3 187.5,204.0 187.8,203.9 188.1,203.8 188.4,204.4 188.7,204.2 189.0,204.8 189.3,205.5 189.6,205.5 189.9,205.5 190.2,205.8 190.5,206.2 190.8,205.4 191.1,206.7 191.4,206.3 191.7,206.6 192.0,206.9 192.3,207.1 192.6,207.0 192.9,204.8 193.2,205.7 193.5,206.5 193.8,206.9 194.1,206.1 194.4,205.7 194.7,206.2 195.0,206.9 195.3,206.5 195.6,206.2 195.9,206.4 196.2,207.2 196.5,206.6 196.8,206.1 197.1,206.1 197.4,206.1 197.7,203.7 198.0,207.1 198.3,206.7 198.6,206.1 198.9,206.0 199.2,206.7 199.5,206.9 199.8,207.3 200.1,206.8 200.4,207.5 200.7,206.7 201.0,206.9 201.3,207.2 201.6,207.4 201.9,208.2 202.2,209.1 202.5,208.4 202.8,209.0 203.1,208.7 203.4,208.6 203.7,207.7 204.0,209.3 204.3,208.4 204.6,208.7 204.9,208.8 205.2,208.0 205.5,209.6 205.8,209.9 206.1,209.1 206.4,210.2 206.7,208.9 207.0,209.8 207.3,209.1 207.6,208.2 207.9,209.7 208.2,207.4 208.5,210.4 208.8,210.5 209.1,210.3 209.4,210.0 209.7,209.3 210.0,210.3 210.3,209.6 210.6,209.4 210.9,208.2 211.2,209.2 211.5,208.4 211.8,209.6 212.1,208.3 212.4,210.1 212.7,208.2 213.0,206.8 213.3,211.2 213.6,210.9 213.9,210.5 214.2,210.8 214.5,210.6 214.8,210.3 215.1,211.0 215.4,207.7 215.7,209.7 216.0,210.1 216.3,211.5 216.6,210.5 216.9,209.4 217.2,209.2 217.5,208.6 217.8,209.4 218.1,209.4 218.4,210.6 218.7,208.3 219.0,208.8 219.3,209.4 219.6,209.5 219.9,210.7 220.2,209.8 220.5,210.6 220.8,209.6 221.1,210.6 221.4,209.4 221.7,211.0 222.0,211.7 222.3,211.2 222.6,210.7 222.9,212.5 223.2,212.5 223.5,212.5 223.8,212.4 224.1,212.4 224.4,212.0 224.7,210.2 225.0,210.0 225.3,211.6 225.6,211.9 225.9,210.6 226.2,211.5 226.5,212.0 226.8,211.8 227.1,211.8 227.4,212.2 227.7,212.5 228.0,210.5 228.3,210.5 228.6,212.5 228.9,210.7 229.2,211.9 229.5,212.6 229.8,210.9 230.1,213.1 230.4,212.1 230.7,210.4 231.0,211.1 231.3,211.7 231.6,211.0 231.9,212.8 232.2,212.6 232.5,212.7 232.8,209.9 233.1,212.4 233.4,210.2 233.7,212.2 234.0,212.5 234.3,208.7 234.6,212.5 234.9,210.4 235.2,212.7 235.5,212.6 235.8,211.3 236.1,212.5 236.4,213.4 236.7,212.8 237.0,213.3 237.3,209.2 237.6,212.8 237.9,212.7 238.2,213.7 238.5,213.5 238.8,213.5 239.1,214.0 239.4,213.5 239.7,213.3 240.0,214.0 240.3,212.8 240.6,213.2 240.9,213.3 241.2,212.2 241.5,212.5 241.8,212.6 242.1,212.8 242.4,213.0 242.7,213.3 243.0,213.0 243.3,212.2 243.6,212.7 243.9,213.7 244.2,212.7 244.5,213.2 244.8,213.2 245.1,212.9 245.4,210.2 245.7,212.3 246.0,212.5 246.3,213.8 246.6,213.2 246.9,211.6 247.2,213.5 247.5,212.8 247.8,212.3 248.1,212.6 248.4,211.6 248.7,213.3 249.0,211.8 249.3,212.8 249.6,210.3 249.9,213.5 250.2,213.7 250.5,211.7 250.8,213.1 251.1,213.4 251.4,212.6 251.7,211.0 252.0,213.1 252.3,212.9 252.6,213.6 252.9,211.7 253.2,213.3 253.5,213.6 253.8,213.2 254.1,212.8 254.4,213.1 254.7,213.7 255.0,212.9 255.3,213.4 255.6,211.1 255.9,213.4 256.2,213.2 256.5,212.5 256.8,212.5 257.1,212.2 257.4,210.7 257.7,212.8 258.0,213.0 258.3,212.0 258.6,213.0 258.9,212.2 259.2,212.3 259.5,209.9 259.8,206.9 260.1,213.6 260.4,213.8 260.7,213.7 261.0,212.8 261.3,212.8 261.6,213.8 261.9,214.4 262.2,213.7 262.5,214.0 262.8,213.7 263.1,213.1 263.4,211.2 263.7,212.8 264.0,212.2 264.3,213.7 264.6,212.5 264.9,213.8 265.2,213.7 265.5,214.1 265.8,213.4 266.1,213.7 266.4,213.2 266.7,212.1 267.0,213.3 267.3,212.0 267.6,213.3 267.9,213.3 268.2,212.7 268.5,213.2 268.8,212.9 269.1,211.7 269.4,213.9 269.7,213.3 270.0,212.2 270.3,213.9 270.6,214.1 270.9,213.8 271.2,214.1 271.5,213.5 271.8,213.3 272.1,213.5 272.4,213.5 272.7,213.0 273.0,212.9 273.3,212.6 273.6,212.6 273.9,211.9 274.2,213.3 274.5,213.6 274.8,212.7 275.1,212.4 275.4,213.0 275.7,213.5 276.0,213.4 276.3,212.1 276.6,213.6 276.9,214.3 277.2,213.6 277.5,213.9 277.8,211.7 278.1,214.5 278.4,213.9 278.7,214.3 279.0,213.8 279.3,214.8 279.6,211.7 279.9,214.4 280.2,213.5 280.5,214.7 280.8,213.9 281.1,212.5 281.4,213.7 281.7,212.6 282.0,211.0 282.3,212.6 282.6,212.6 282.9,213.7 283.2,214.1 283.5,214.0 283.8,214.4 284.1,213.5 284.4,213.2 284.7,214.3 285.0,213.6 285.3,213.7 285.6,214.6 285.9,213.8 286.2,213.8 286.5,213.3 286.8,213.0 287.1,213.9 287.4,213.3 287.7,213.8 288.0,213.5 288.3,212.4 288.6,211.9 288.9,213.8 289.2,212.5 289.5,213.8 289.8,213.9 290.1,211.1 290.4,213.1 290.7,212.9 291.0,213.0 291.3,213.2 291.6,212.5 291.9,214.0 292.2,214.1 292.5,213.1 292.8,213.6 293.1,214.0 293.4,214.0 293.7,214.0 294.0,210.4 294.3,214.6 294.6,213.2 294.9,214.0 295.2,213.4 295.5,213.2 295.8,214.2 296.1,214.6 296.4,212.8 296.7,208.9 297.0,212.5 297.3,210.6 297.6,213.1 297.9,213.5 298.2,212.5 298.5,213.2 298.8,212.7 299.1,210.9 299.4,213.8 299.7,213.8 300.0,212.6 300.3,213.1 300.6,214.1 300.9,210.9 301.2,213.4 301.5,212.3 301.8,213.8 302.1,212.8 302.4,213.1 302.7,211.4 303.0,214.2 303.3,211.9 303.6,213.1 303.9,212.8 304.2,213.2 304.5,211.2 304.8,213.9 305.1,213.2 305.4,212.9 305.7,213.9 306.0,212.6 306.3,212.4 306.6,212.2 306.9,213.9 307.2,213.5 307.5,213.2 307.8,210.7 308.1,211.8 308.4,212.9 308.7,213.9 309.0,212.2 309.3,213.2 309.6,212.3 309.9,214.0 310.2,212.1 310.5,213.3 310.8,213.1 311.1,213.8 311.4,214.4 311.7,209.5 312.0,212.9 312.3,214.3 312.6,213.9 312.9,211.4 313.2,214.2 313.5,214.7 313.8,214.4 314.1,214.1 314.4,213.6 314.7,214.1 315.0,212.3 315.3,213.4 315.6,212.9 315.9,213.1 316.2,212.9 316.5,213.6 316.8,210.4 317.1,212.7 317.4,211.4 317.7,213.7 318.0,214.6 318.3,214.1 318.6,212.5 318.9,213.4 319.2,212.9 319.5,210.0 319.8,213.9 320.1,213.2 320.4,212.9 320.7,211.8 321.0,212.7 321.3,214.2 321.6,214.5 321.9,215.0 322.2,215.2 322.5,215.1 322.8,214.7 323.1,214.6 323.4,214.2 323.7,214.6 324.0,214.0 324.3,214.1 324.6,211.7 324.9,211.6 325.2,214.2 325.5,214.3 325.8,214.2 326.1,214.4 326.4,214.0 326.7,212.4 327.0,214.5 327.3,214.0 327.6,212.6 327.9,211.9 328.2,214.8 328.5,213.8 328.8,213.6 329.1,214.3 329.4,213.3 329.7,212.8 330.0,210.6 330.3,213.4 330.6,213.0 330.6,220.9 330.3,221.4 330.0,220.4 329.7,220.9 329.4,220.8 329.1,221.1 328.8,222.1 328.5,221.3 328.2,220.8 327.9,221.0 327.6,223.0 327.3,223.8 327.0,220.9 326.7,221.0 326.4,222.3 326.1,222.1 325.8,220.9 325.5,220.3 325.2,220.8 324.9,220.6 324.6,221.4 324.3,223.3 324.0,222.4 323.7,221.7 323.4,221.1 323.1,221.8 322.8,222.0 322.5,222.3 322.2,222.3 321.9,221.2 321.6,222.2 321.3,220.6 321.0,222.0 320.7,220.7 320.4,220.0 320.1,222.6 319.8,219.8 319.5,222.1 319.2,221.6 318.9,222.0 318.6,220.7 318.3,220.6 318.0,222.3 317.7,221.1 317.4,221.0 317.1,222.1 316.8,221.2 316.5,220.6 316.2,221.1 315.9,219.6 315.6,220.7 315.3,220.0 315.0,220.8 314.7,220.4 314.4,220.5 314.1,220.7 313.8,221.2 313.5,222.1 313.2,221.7 312.9,221.1 312.6,222.4 312.3,221.3 312.0,220.5 311.7,220.9 311.4,221.1 311.1,221.6 310.8,221.1 310.5,220.4 310.2,222.2 309.9,222.4 309.6,223.5 309.3,221.8 309.0,219.6 308.7,220.4 308.4,220.4 308.1,220.1 307.8,220.3 307.5,221.3 307.2,221.1 306.9,222.0 306.6,220.6 306.3,220.0 306.0,221.3 305.7,220.6 305.4,220.2 305.1,220.2 304.8,220.9 304.5,221.6 304.2,220.9 303.9,220.5 303.6,220.5 303.3,221.5 303.0,220.3 302.7,220.2 302.4,219.8 302.1,221.7 301.8,222.0 301.5,220.6 301.2,220.3 300.9,220.3 300.6,220.4 300.3,221.2 300.0,220.8 299.7,220.6 299.4,221.3 299.1,219.8 298.8,220.0 298.5,219.7 298.2,220.2 297.9,221.1 297.6,220.8 297.3,220.9 297.0,222.5 296.7,220.8 296.4,221.4 296.1,221.3 295.8,221.8 295.5,220.8 295.2,220.9 294.9,222.5 294.6,221.3 294.3,220.6 294.0,221.3 293.7,220.3 293.4,221.0 293.1,221.2 292.8,221.9 292.5,221.3 292.2,220.6 291.9,220.2 291.6,219.7 291.3,220.3 291.0,221.2 290.7,219.9 290.4,220.3 290.1,221.0 289.8,220.4 289.5,221.2 289.2,222.3 288.9,221.3 288.6,221.4 288.3,221.6 288.0,221.1 287.7,220.9 287.4,222.2 287.1,222.7 286.8,221.4 286.5,221.8 286.2,221.0 285.9,221.1 285.6,221.0 285.3,221.2 285.0,221.5 284.7,220.9 284.4,221.0 284.1,222.5 283.8,221.5 283.5,220.5 283.2,220.8 282.9,220.4 282.6,220.3 282.3,219.5 282.0,219.8 281.7,223.4 281.4,219.7 281.1,220.6 280.8,220.1 280.5,221.0 280.2,220.6 279.9,221.1 279.6,221.8 279.3,222.4 279.0,221.0 278.7,221.3 278.4,222.1 278.1,221.0 277.8,221.7 277.5,221.4 277.2,220.9 276.9,221.5 276.6,221.2 276.3,220.6 276.0,220.1 275.7,220.5 275.4,221.6 275.1,220.4 274.8,219.6 274.5,220.9 274.2,220.4 273.9,220.2 273.6,219.9 273.3,220.2 273.0,219.7 272.7,219.9 272.4,221.1 272.1,220.3 271.8,220.0 271.5,219.5 271.2,220.2 270.9,220.4 270.6,220.1 270.3,221.2 270.0,220.2 269.7,220.8 269.4,220.4 269.1,221.9 268.8,222.0 268.5,219.9 268.2,219.9 267.9,221.7 267.6,219.5 267.3,219.6 267.0,219.4 266.7,220.5 266.4,220.8 266.1,221.1 265.8,220.6 265.5,220.4 265.2,221.3 264.9,220.9 264.6,221.3 264.3,222.1 264.0,219.7 263.7,220.1 263.4,220.8 263.1,221.7 262.8,222.1 262.5,220.1 262.2,220.7 261.9,220.1 261.6,221.5 261.3,219.9 261.0,220.8 260.7,219.7 260.4,219.7 260.1,220.0 259.8,219.8 259.5,220.6 259.2,220.2 258.9,219.4 258.6,219.3 258.3,220.4 258.0,218.8 257.7,218.9 257.4,219.5 257.1,219.6 256.8,219.8 256.5,219.8 256.2,219.9 255.9,219.5 255.6,219.6 255.3,220.8 255.0,220.0 254.7,219.7 254.4,221.6 254.1,220.2 253.8,219.4 253.5,219.7 253.2,219.5 252.9,219.8 252.6,219.4 252.3,220.3 252.0,220.9 251.7,220.2 251.4,220.0 251.1,220.0 250.8,219.7 250.5,220.5 250.2,219.6 249.9,220.8 249.6,220.3 249.3,220.0 249.0,220.3 248.7,219.5 248.4,219.5 248.1,219.1 247.8,219.6 247.5,220.9 247.2,220.5 246.9,222.2 246.6,220.3 246.3,221.5 246.0,221.3 245.7,219.2 245.4,219.9 245.1,219.4 244.8,219.8 244.5,220.8 244.2,221.3 243.9,219.8 243.6,219.6 243.3,220.1 243.0,220.0 242.7,220.8 242.4,219.6 242.1,219.9 241.8,219.3 241.5,219.0 241.2,219.2 240.9,219.3 240.6,219.5 240.3,219.8 240.0,220.0 239.7,220.1 239.4,220.5 239.1,222.6 238.8,220.1 238.5,219.7 238.2,219.6 237.9,219.2 237.6,220.2 237.3,220.0 237.0,219.4 236.7,219.4 236.4,219.5 236.1,219.0 235.8,220.5 235.5,220.0 235.2,220.4 234.9,218.7 234.6,218.8 234.3,218.2 234.0,218.4 233.7,218.9 233.4,218.6 233.1,218.9 232.8,219.1 232.5,220.8 232.2,218.5 231.9,219.1 231.6,219.8 231.3,219.9 231.0,219.7 230.7,221.5 230.4,221.9 230.1,219.0 229.8,219.9 229.5,218.6 229.2,219.0 228.9,219.3 228.6,219.2 228.3,219.3 228.0,218.5 227.7,218.3 227.4,218.8 227.1,218.5 226.8,218.8 226.5,218.6 226.2,218.1 225.9,220.0 225.6,218.0 225.3,219.5 225.0,218.2 224.7,218.6 224.4,219.8 224.1,218.9 223.8,218.9 223.5,218.8 223.2,220.4 222.9,218.8 222.6,219.0 222.3,218.6 222.0,218.0 221.7,218.0 221.4,218.0 221.1,216.5 220.8,217.5 220.5,216.5 220.2,216.7 219.9,216.9 219.6,217.2 219.3,216.8 219.0,217.0 218.7,216.6 218.4,216.5 218.1,216.7 217.8,216.7 217.5,216.7 217.2,217.6 216.9,217.0 216.6,218.2 216.3,217.8 216.0,218.7 215.7,218.3 215.4,216.7 215.1,217.6 214.8,217.7 214.5,217.1 214.2,216.9 213.9,217.6 213.6,217.0 213.3,217.3 213.0,217.1 212.7,217.6 212.4,216.6 212.1,216.3 211.8,218.3 211.5,215.6 211.2,215.2 210.9,215.6 210.6,215.8 210.3,216.7 210.0,217.6 209.7,216.6 209.4,216.7 209.1,216.5 208.8,217.1 208.5,216.2 208.2,216.4 207.9,215.8 207.6,217.8 207.3,215.6 207.0,216.1 206.7,215.9 206.4,215.8 206.1,216.4 205.8,216.3 205.5,216.9 205.2,215.2 204.9,215.4 204.6,214.8 204.3,215.2 204.0,216.9 203.7,215.6 203.4,215.2 203.1,216.9 202.8,216.2 202.5,215.4 202.2,216.1 201.9,215.4 201.6,214.9 201.3,213.8 201.0,214.1 200.7,213.7 200.4,214.3 200.1,214.0 199.8,213.7 199.5,213.8 199.2,214.6 198.9,213.6 198.6,213.0 198.3,213.0 198.0,213.0 197.7,213.7 197.4,214.0 197.1,213.1 196.8,213.4 196.5,213.5 196.2,213.8 195.9,214.1 195.6,213.5 195.3,213.6 195.0,213.4 194.7,213.0 194.4,212.4 194.1,213.3 193.8,213.3 193.5,213.4 193.2,212.8 192.9,213.9 192.6,213.8 192.3,212.9 192.0,212.7 191.7,212.3 191.4,212.2 191.1,213.2 190.8,212.8 190.5,212.7 190.2,212.3 189.9,212.1 189.6,211.8 189.3,213.3 189.0,211.6 188.7,211.0 188.4,211.0 188.1,210.2 187.8,212.3 187.5,211.5 187.2,211.9 186.9,212.0 186.6,211.8 186.3,212.3 186.0,211.5 185.7,212.0 185.4,211.3 185.1,211.1 184.8,211.3 184.5,211.0 184.2,210.3 183.9,209.8 183.6,209.7 183.3,209.7 183.0,210.1 182.7,209.4 182.4,209.6 182.1,210.0 181.8,209.2 181.5,211.0 181.2,209.3 180.9,210.3 180.6,210.1 180.3,208.9 180.0,208.5 179.7,209.4 179.4,209.0 179.1,210.5 178.8,208.0 178.5,207.9 178.2,209.3 177.9,207.9 177.6,209.3 177.3,208.9 177.0,208.0 176.7,209.1 176.4,207.6 176.1,207.6 175.8,207.6 175.5,207.9 175.2,208.4 174.9,208.7 174.6,207.8 174.3,208.5 174.0,207.6 173.7,209.7 173.4,207.6 173.1,208.3 172.8,209.0 172.5,208.0 172.2,207.3 171.9,206.8 171.6,206.3 171.3,207.3 171.0,205.7 170.7,206.3 170.4,207.4 170.1,205.4 169.8,205.4 169.5,206.1 169.2,206.2 168.9,205.8 168.6,206.1 168.3,204.6 168.0,205.4 167.7,204.8 167.4,204.3 167.1,205.4 166.8,204.3 166.5,204.4 166.2,204.8 165.9,206.0 165.6,204.9 165.3,205.8 165.0,205.4 164.7,205.6 164.4,206.6 164.1,204.9 163.8,206.2 163.5,205.4 163.2,205.5 162.9,204.2 162.6,205.3 162.3,204.8 162.0,204.4 161.7,205.0 161.4,205.4 161.1,204.2 160.8,204.1 160.5,203.8 160.2,203.8 159.9,204.2 159.6,203.9 159.3,204.1 159.0,202.7 158.7,203.9 158.4,204.9 158.1,204.1 157.8,202.9 157.5,203.5 157.2,202.9 156.9,203.0 156.6,202.9 156.3,203.4 156.0,203.9 155.7,202.9 155.4,202.8 155.1,203.1 154.8,203.6 154.5,203.5 154.2,203.9 153.9,201.9 153.6,202.2 153.3,203.0 153.0,202.2 152.7,203.1 152.4,201.9 152.1,202.0 151.8,202.0 151.5,203.4 151.2,203.9 150.9,202.5 150.6,203.0 150.3,202.0 150.0,202.3 149.7,203.0 149.4,202.2 149.1,201.2 148.8,201.0 148.5,201.5 148.2,201.9 147.9,200.5 147.6,201.1 147.3,201.2 147.0,200.8 146.7,202.3 146.4,201.7 146.1,201.2 145.8,199.7 145.5,200.8 145.2,200.3 144.9,199.3 144.6,199.0 144.3,198.6 144.0,198.8 143.7,198.9 143.4,199.5 143.1,198.4 142.8,199.2 142.5,198.4 142.2,199.0 141.9,198.2 141.6,198.8 141.3,198.7 141.0,198.1 140.7,198.2 140.4,197.9 140.1,198.1 139.8,197.3 139.5,198.0 139.2,198.0 138.9,198.3 138.6,199.0 138.3,196.8 138.0,197.1 137.7,197.6 137.4,198.3 137.1,197.4 136.8,198.4 136.5,197.1 136.2,196.9 135.9,197.1 135.6,197.0 135.3,197.0 135.0,195.9 134.7,195.5 134.4,195.4 134.1,195.5 133.8,195.1 133.5,195.9 133.2,195.1 132.9,195.1 132.6,195.6 132.3,195.4 132.0,195.5 131.7,195.8 131.4,196.0 131.1,197.0 130.8,196.1 130.5,197.4 130.2,195.9 129.9,195.4 129.6,196.3 129.3,198.1 129.0,196.4 128.7,197.0 128.4,197.0 128.1,195.9 127.8,195.6 127.5,196.3 127.2,196.1 126.9,196.3 126.6,196.2 126.3,195.5 126.0,196.6 125.7,197.2 125.4,196.6 125.1,196.1 124.8,198.7 124.5,196.2 124.2,196.2 123.9,196.3 123.6,197.0 123.3,196.6 123.0,196.1 122.7,195.4 122.4,195.8 122.1,195.9 121.8,196.7 121.5,195.8 121.2,195.5 120.9,195.2 120.6,196.6 120.3,195.6 120.0,195.7 119.7,198.3 119.4,196.0 119.1,195.1 118.8,196.2 118.5,195.8 118.2,194.8 117.9,195.1 117.6,194.4 117.3,195.9 117.0,194.5 116.7,195.0 116.4,194.4 116.1,195.0 115.8,194.7 115.5,194.0 115.2,194.8 114.9,194.0 114.6,194.0 114.3,193.3 114.0,194.0 113.7,193.2 113.4,193.7 113.1,193.8 112.8,192.4 112.5,193.0 112.2,192.5 111.9,192.5 111.6,192.0 111.3,194.2 111.0,192.2 110.7,191.7 110.4,191.3 110.1,191.1 109.8,191.4 109.5,190.2 109.2,190.3 108.9,189.8 108.6,189.4 108.3,190.5 108.0,190.1 107.7,190.1 107.4,189.5 107.1,190.4 106.8,189.7 106.5,189.2 106.2,189.6 105.9,189.0 105.6,187.5 105.3,186.7 105.0,187.2 104.7,186.7 104.4,185.2 104.1,184.7 103.8,184.3 103.5,186.8 103.2,186.0 102.9,185.3 102.6,183.5 102.3,183.8 102.0,182.9 101.7,181.9 101.4,182.9 101.1,181.3 100.8,179.9 100.5,179.3 100.2,178.9 99.9,178.6 99.6,178.5 99.3,177.5 99.0,177.5 98.7,177.3 98.4,176.0 98.1,175.3 97.8,175.7 97.5,174.0 97.2,174.7 96.9,173.7 96.6,172.9 96.3,172.8 96.0,172.9 95.7,172.9 95.4,172.3 95.1,171.2 94.8,170.7 94.5,170.8 94.2,171.8 93.9,170.9 93.6,171.0 93.3,171.0 93.0,170.4 92.7,170.3 92.4,171.4 92.1,172.2 91.8,170.6 91.5,171.2 91.2,171.1 90.9,170.7 90.6,170.1 90.3,170.4 90.0,170.0 89.7,169.5 89.4,170.0 89.1,169.2 88.8,169.9 88.5,169.6 88.2,169.1 87.9,169.6 87.6,170.4 87.3,169.1 87.0,169.5 86.7,170.3 86.4,169.9 86.1,169.5 85.8,169.8 85.5,170.6 85.2,170.4 84.9,169.6 84.6,169.7 84.3,169.6 84.0,169.9 83.7,170.0 83.4,169.9 83.1,169.9 82.8,169.1 82.5,169.8 82.2,169.4 81.9,169.5 81.6,170.7 81.3,170.2 81.0,170.0 80.7,169.9 80.4,169.6 80.1,170.2 79.8,170.2 79.5,170.0 79.2,170.5 78.9,170.1 78.6,169.6 78.3,169.8 78.0,169.9 77.7,169.5 77.4,169.1 77.1,169.1 76.8,169.5 76.5,169.7 76.2,170.3 75.9,169.7 75.6,169.4 75.3,169.3 75.0,169.1 74.7,168.9 74.4,168.6 74.1,168.3 73.8,168.0 73.5,167.7 73.2,167.6 72.9,167.3 72.6,167.2 72.3,166.5 72.0,166.0 71.7,166.2 71.4,165.3 71.1,164.5 70.8,164.1 70.5,163.5 70.2,163.1 69.9,163.0 69.6,162.3 69.3,161.8 69.0,161.6 68.7,161.2 68.4,160.5 68.1,160.2 67.8,159.4 67.5,159.3 67.2,158.5 66.9,158.1 66.6,158.0 66.3,157.0 66.0,156.8 65.7,156.1 65.4,155.4 65.1,154.8 64.8,154.7 64.5,153.8 64.2,153.1 63.9,152.9 63.6,152.1 63.3,152.5 63.0,151.1 62.7,150.4 62.4,150.3 62.1,149.2 61.8,149.2 61.5,148.7 61.2,147.9 60.9,147.0 60.6,146.9 60.3,145.8 60.0,145.2 59.7,144.7 59.4,144.4 59.1,143.3 58.8,143.5 58.5,142.7 58.2,141.6 57.9,141.2 57.6,140.4 57.3,140.1 57.0,139.3 56.7,138.5 56.4,138.1 56.1,137.2 55.8,136.7 55.5,136.0 55.2,135.3 54.9,134.7 54.6,134.3 54.3,133.6 54.0,133.1 53.7,132.5 53.4,131.6 53.1,131.0 52.8,130.2 52.5,129.6 52.2,128.7 51.9,128.3 51.6,127.2 51.3,126.2 51.0,125.6 50.7,124.7 50.4,124.4 50.1,123.4 49.8,122.7 49.5,122.1 49.2,121.6 48.9,121.4" fill="#f00"/>
<path d="M226.5,65.6L265.7,43.7M226.5,107.2L265.7,66" stroke="#777" stroke-width="0.6" fill="none"/><rect x="265.7" y="43.7" width="23.6" height="22.3" fill="none" stroke="#ddd" stroke-width="0.6"/><path d="M227.3,142.5L263.6,133.3M227.3,187.1L263.6,156" stroke="#777" stroke-width="0.6" fill="none"/><rect x="263.6" y="133.3" width="23.5" height="22.7" fill="none" stroke="#ddd" stroke-width="0.6"/>
<circle cx="276.2" cy="79.2" r="32.5" fill="none" stroke="#808080" stroke-width="0.9"/><circle cx="276.3" cy="79.3" r="16.8" fill="none" stroke="#3d64b0" stroke-width="0.9"/><circle cx="290.63" cy="50.08" r="2.40" fill="url(#ggray)"/><circle cx="293.73" cy="51.84" r="2.40" fill="url(#ggray)"/><circle cx="298.92" cy="55.96" r="2.40" fill="url(#ggray)"/><circle cx="301.33" cy="58.59" r="2.40" fill="url(#ggray)"/><circle cx="304.99" cy="64.12" r="2.40" fill="url(#ggray)"/><circle cx="306.47" cy="67.37" r="2.40" fill="url(#ggray)"/><circle cx="308.24" cy="73.75" r="2.40" fill="url(#ggray)"/><circle cx="308.64" cy="77.30" r="2.40" fill="url(#ggray)"/><circle cx="308.36" cy="83.92" r="2.40" fill="url(#ggray)"/><circle cx="307.64" cy="87.42" r="2.40" fill="url(#ggray)"/><circle cx="305.32" cy="93.63" r="2.40" fill="url(#ggray)"/><circle cx="303.56" cy="96.73" r="2.40" fill="url(#ggray)"/><circle cx="299.44" cy="101.92" r="2.40" fill="url(#ggray)"/><circle cx="296.81" cy="104.33" r="2.40" fill="url(#ggray)"/><circle cx="291.28" cy="107.99" r="2.40" fill="url(#ggray)"/><circle cx="288.03" cy="109.47" r="2.40" fill="url(#ggray)"/><circle cx="281.65" cy="111.24" r="2.40" fill="url(#ggray)"/><circle cx="278.10" cy="111.64" r="2.40" fill="url(#ggray)"/><circle cx="271.48" cy="111.36" r="2.40" fill="url(#ggray)"/><circle cx="267.98" cy="110.64" r="2.40" fill="url(#ggray)"/><circle cx="261.77" cy="108.32" r="2.40" fill="url(#ggray)"/><circle cx="258.67" cy="106.56" r="2.40" fill="url(#ggray)"/><circle cx="253.48" cy="102.44" r="2.40" fill="url(#ggray)"/><circle cx="251.07" cy="99.81" r="2.40" fill="url(#ggray)"/><circle cx="247.41" cy="94.28" r="2.40" fill="url(#ggray)"/><circle cx="245.93" cy="91.03" r="2.40" fill="url(#ggray)"/><circle cx="244.16" cy="84.65" r="2.40" fill="url(#ggray)"/><circle cx="243.76" cy="81.10" r="2.40" fill="url(#ggray)"/><circle cx="244.04" cy="74.48" r="2.40" fill="url(#ggray)"/><circle cx="244.76" cy="70.98" r="2.40" fill="url(#ggray)"/><circle cx="247.08" cy="64.77" r="2.40" fill="url(#ggray)"/><circle cx="248.84" cy="61.67" r="2.40" fill="url(#ggray)"/><circle cx="252.96" cy="56.48" r="2.40" fill="url(#ggray)"/><circle cx="255.59" cy="54.07" r="2.40" fill="url(#ggray)"/><circle cx="261.12" cy="50.41" r="2.40" fill="url(#ggray)"/><circle cx="264.37" cy="48.93" r="2.40" fill="url(#ggray)"/><circle cx="270.28" cy="63.62" r="2.40" fill="url(#gblue)"/><circle cx="273.67" cy="62.71" r="2.40" fill="url(#gblue)"/><circle cx="280.65" cy="63.07" r="2.40" fill="url(#gblue)"/><circle cx="283.93" cy="64.33" r="2.40" fill="url(#gblue)"/><circle cx="289.36" cy="68.73" r="2.40" fill="url(#gblue)"/><circle cx="291.27" cy="71.67" r="2.40" fill="url(#gblue)"/><circle cx="293.08" cy="78.42" r="2.40" fill="url(#gblue)"/><circle cx="292.89" cy="81.93" r="2.40" fill="url(#gblue)"/><circle cx="290.39" cy="88.45" r="2.40" fill="url(#gblue)"/><circle cx="288.18" cy="91.18" r="2.40" fill="url(#gblue)"/><circle cx="282.32" cy="94.98" r="2.40" fill="url(#gblue)"/><circle cx="278.93" cy="95.89" r="2.40" fill="url(#gblue)"/><circle cx="271.95" cy="95.53" r="2.40" fill="url(#gblue)"/><circle cx="268.67" cy="94.27" r="2.40" fill="url(#gblue)"/><circle cx="263.24" cy="89.87" r="2.40" fill="url(#gblue)"/><circle cx="261.33" cy="86.93" r="2.40" fill="url(#gblue)"/><circle cx="259.52" cy="80.18" r="2.40" fill="url(#gblue)"/><circle cx="259.71" cy="76.67" r="2.40" fill="url(#gblue)"/><circle cx="262.21" cy="70.15" r="2.40" fill="url(#gblue)"/><circle cx="264.42" cy="67.42" r="2.40" fill="url(#gblue)"/><circle cx="270.56" cy="47.19" r="2.30" fill="url(#ggray)"/><circle cx="273.99" cy="46.78" r="2.30" fill="url(#ggray)"/><line x1="274.0" y1="46.8" x2="274.6" y2="51.9" stroke="#999" stroke-width="1"/><line x1="274.6" y1="51.9" x2="281.3" y2="47.1" stroke="#5c5" stroke-width="0.8"/><circle cx="281.28" cy="47.10" r="2.25" fill="url(#ggreen)"/><circle cx="285.16" cy="47.96" r="2.30" fill="url(#ggray)"/><circle cx="274.60" cy="51.90" r="2.30" fill="url(#gred)"/><circle cx="275.9" cy="170.6" r="34" fill="none" stroke="#808080" stroke-width="0.9"/><circle cx="276.2" cy="170.9" r="17.6" fill="none" stroke="#3d64b0" stroke-width="0.9"/><circle cx="290.99" cy="140.13" r="2.40" fill="url(#ggray)"/><circle cx="294.24" cy="141.97" r="2.40" fill="url(#ggray)"/><circle cx="299.67" cy="146.29" r="2.40" fill="url(#ggray)"/><circle cx="302.19" cy="149.04" r="2.40" fill="url(#ggray)"/><circle cx="306.02" cy="154.82" r="2.40" fill="url(#ggray)"/><circle cx="307.57" cy="158.22" r="2.40" fill="url(#ggray)"/><circle cx="309.42" cy="164.90" r="2.40" fill="url(#ggray)"/><circle cx="309.84" cy="168.61" r="2.40" fill="url(#ggray)"/><circle cx="309.54" cy="175.54" r="2.40" fill="url(#ggray)"/><circle cx="308.79" cy="179.20" r="2.40" fill="url(#ggray)"/><circle cx="306.37" cy="185.69" r="2.40" fill="url(#ggray)"/><circle cx="304.53" cy="188.94" r="2.40" fill="url(#ggray)"/><circle cx="300.21" cy="194.37" r="2.40" fill="url(#ggray)"/><circle cx="297.46" cy="196.89" r="2.40" fill="url(#ggray)"/><circle cx="291.68" cy="200.72" r="2.40" fill="url(#ggray)"/><circle cx="288.28" cy="202.27" r="2.40" fill="url(#ggray)"/><circle cx="281.60" cy="204.12" r="2.40" fill="url(#ggray)"/><circle cx="277.89" cy="204.54" r="2.40" fill="url(#ggray)"/><circle cx="270.96" cy="204.24" r="2.40" fill="url(#ggray)"/><circle cx="267.30" cy="203.49" r="2.40" fill="url(#ggray)"/><circle cx="260.81" cy="201.07" r="2.40" fill="url(#ggray)"/><circle cx="257.56" cy="199.23" r="2.40" fill="url(#ggray)"/><circle cx="252.13" cy="194.91" r="2.40" fill="url(#ggray)"/><circle cx="249.61" cy="192.16" r="2.40" fill="url(#ggray)"/><circle cx="245.78" cy="186.38" r="2.40" fill="url(#ggray)"/><circle cx="244.23" cy="182.98" r="2.40" fill="url(#ggray)"/><circle cx="242.38" cy="176.30" r="2.40" fill="url(#ggray)"/><circle cx="241.96" cy="172.59" r="2.40" fill="url(#ggray)"/><circle cx="242.26" cy="165.66" r="2.40" fill="url(#ggray)"/><circle cx="243.01" cy="162.00" r="2.40" fill="url(#ggray)"/><circle cx="245.43" cy="155.51" r="2.40" fill="url(#ggray)"/><circle cx="247.27" cy="152.26" r="2.40" fill="url(#ggray)"/><circle cx="251.59" cy="146.83" r="2.40" fill="url(#ggray)"/><circle cx="254.34" cy="144.31" r="2.40" fill="url(#ggray)"/><circle cx="260.12" cy="140.48" r="2.40" fill="url(#ggray)"/><circle cx="263.52" cy="138.93" r="2.40" fill="url(#ggray)"/><circle cx="269.89" cy="154.47" r="2.40" fill="url(#gblue)"/><circle cx="273.45" cy="153.52" r="2.40" fill="url(#gblue)"/><circle cx="280.76" cy="153.90" r="2.40" fill="url(#gblue)"/><circle cx="284.19" cy="155.22" r="2.40" fill="url(#gblue)"/><circle cx="289.88" cy="159.82" r="2.40" fill="url(#gblue)"/><circle cx="291.88" cy="162.91" r="2.40" fill="url(#gblue)"/><circle cx="293.78" cy="169.98" r="2.40" fill="url(#gblue)"/><circle cx="293.58" cy="173.65" r="2.40" fill="url(#gblue)"/><circle cx="290.96" cy="180.49" r="2.40" fill="url(#gblue)"/><circle cx="288.65" cy="183.35" r="2.40" fill="url(#gblue)"/><circle cx="282.51" cy="187.33" r="2.40" fill="url(#gblue)"/><circle cx="278.95" cy="188.28" r="2.40" fill="url(#gblue)"/><circle cx="271.64" cy="187.90" r="2.40" fill="url(#gblue)"/><circle cx="268.21" cy="186.58" r="2.40" fill="url(#gblue)"/><circle cx="262.52" cy="181.98" r="2.40" fill="url(#gblue)"/><circle cx="260.52" cy="178.89" r="2.40" fill="url(#gblue)"/><circle cx="258.62" cy="171.82" r="2.40" fill="url(#gblue)"/><circle cx="258.82" cy="168.15" r="2.40" fill="url(#gblue)"/><circle cx="261.44" cy="161.31" r="2.40" fill="url(#gblue)"/><circle cx="263.75" cy="158.45" r="2.40" fill="url(#gblue)"/><circle cx="270.29" cy="137.07" r="2.30" fill="url(#ggray)"/><line x1="274.3" y1="136.6" x2="281.4" y2="142.3" stroke="#5c5" stroke-width="0.8"/><circle cx="280.63" cy="136.93" r="2.30" fill="url(#ggray)"/><circle cx="284.59" cy="137.73" r="2.30" fill="url(#ggray)"/><circle cx="274.30" cy="136.64" r="2.35" fill="url(#gred)"/><circle cx="281.40" cy="142.30" r="2.30" fill="url(#ggreen)"/>
<clipPath id="cA"><rect x="181.0" y="65.6" width="45.5" height="41.6"/></clipPath><g clip-path="url(#cA)"><line x1="181" y1="76.5" x2="192" y2="73.5" stroke="#777" stroke-width="2.8"/><line x1="197.8" y1="72.5" x2="209.5" y2="72.5" stroke="#888" stroke-width="2.6"/><line x1="209.5" y1="72.5" x2="227" y2="78.6" stroke="#777" stroke-width="2.8"/><line x1="197.9" y1="81.4" x2="203.65" y2="76.9" stroke="#e22" stroke-width="1.4"/><line x1="203.65" y1="76.9" x2="209.4" y2="72.4" stroke="#4c4" stroke-width="1.4"/><line x1="181" y1="106" x2="191" y2="102.5" stroke="#3b66b8" stroke-width="2.0"/><line x1="197" y1="101" x2="209" y2="102" stroke="#3b66b8" stroke-width="2.0"/><circle cx="181.40" cy="75.60" r="3.90" fill="url(#ggray)"/><circle cx="191.10" cy="73.20" r="4.10" fill="url(#ggray)"/><circle cx="197.90" cy="72.80" r="4.10" fill="url(#ggray)"/><circle cx="216.70" cy="74.60" r="3.90" fill="url(#ggray)"/><circle cx="227.30" cy="78.40" r="3.90" fill="url(#ggray)"/><circle cx="197.90" cy="81.40" r="3.90" fill="url(#gred)"/><circle cx="209.40" cy="72.40" r="3.80" fill="url(#ggreen)"/><circle cx="181.50" cy="106.00" r="2.40" fill="url(#gblue)"/><circle cx="191.10" cy="102.50" r="4.00" fill="url(#gblue)"/><circle cx="197.30" cy="101.20" r="4.00" fill="url(#gblue)"/><circle cx="208.80" cy="102.10" r="4.00" fill="url(#gblue)"/><circle cx="214.30" cy="104.00" r="4.00" fill="url(#gblue)"/></g><rect x="181.0" y="65.6" width="45.5" height="41.6" fill="none" stroke="#7a7a7a" stroke-width="0.8"/><clipPath id="cB"><rect x="181.3" y="142.5" width="46.0" height="44.6"/></clipPath><g clip-path="url(#cB)"><line x1="181" y1="152.5" x2="193" y2="150" stroke="#777" stroke-width="2.8"/><line x1="200.5" y1="148.6" x2="212" y2="149.3" stroke="#888" stroke-width="2.6"/><line x1="219" y1="150.4" x2="228" y2="153.8" stroke="#777" stroke-width="2.8"/><line x1="200.5" y1="148.6" x2="206.65" y2="153.55" stroke="#e22" stroke-width="1.4"/><line x1="206.65" y1="153.55" x2="212.8" y2="158.5" stroke="#4c4" stroke-width="1.4"/><line x1="181.5" y1="186" x2="193" y2="181" stroke="#3b66b8" stroke-width="2.0"/><line x1="199.6" y1="178.6" x2="211.3" y2="180.1" stroke="#3b66b8" stroke-width="2.0"/><circle cx="182.60" cy="152.30" r="3.90" fill="url(#ggray)"/><circle cx="193.00" cy="149.90" r="4.10" fill="url(#ggray)"/><circle cx="211.90" cy="149.30" r="4.10" fill="url(#ggray)"/><circle cx="219.20" cy="150.40" r="4.10" fill="url(#ggray)"/><circle cx="228.80" cy="153.80" r="3.80" fill="url(#ggray)"/><circle cx="200.50" cy="148.60" r="4.10" fill="url(#gred)"/><circle cx="212.80" cy="158.50" r="3.90" fill="url(#ggreen)"/><circle cx="182.20" cy="186.20" r="2.40" fill="url(#gblue)"/><circle cx="193.00" cy="180.50" r="4.00" fill="url(#gblue)"/><circle cx="199.60" cy="178.60" r="4.00" fill="url(#gblue)"/><circle cx="211.30" cy="180.10" r="4.00" fill="url(#gblue)"/><circle cx="218.60" cy="182.80" r="4.00" fill="url(#gblue)"/></g><rect x="181.3" y="142.5" width="46.0" height="44.6" fill="none" stroke="#7a7a7a" stroke-width="0.8"/>
<rect x="49.2" y="7.1" width="282.00" height="238.00" fill="none" stroke="#555" stroke-width="1"/>
<path d="M49.20,245.10h3.2M331.20,245.10h-3.2M49.20,230.22h1.8M331.20,230.22h-1.8M49.20,215.35h3.2M331.20,215.35h-3.2M49.20,200.47h1.8M331.20,200.47h-1.8M49.20,185.60h3.2M331.20,185.60h-3.2M49.20,170.72h1.8M331.20,170.72h-1.8M49.20,155.85h3.2M331.20,155.85h-3.2M49.20,140.97h1.8M331.20,140.97h-1.8M49.20,126.10h3.2M331.20,126.10h-3.2M49.20,111.22h1.8M331.20,111.22h-1.8M49.20,96.35h3.2M331.20,96.35h-3.2M49.20,81.47h1.8M331.20,81.47h-1.8M49.20,66.60h3.2M331.20,66.60h-3.2M49.20,51.73h1.8M331.20,51.73h-1.8M49.20,36.85h3.2M331.20,36.85h-3.2M49.20,21.98h1.8M331.20,21.98h-1.8M49.20,7.10h3.2M331.20,7.10h-3.2M49.20,245.10v-3.2M49.20,7.10v3.2M77.40,245.10v-1.8M77.40,7.10v1.8M105.60,245.10v-3.2M105.60,7.10v3.2M133.80,245.10v-1.8M133.80,7.10v1.8M162.00,245.10v-3.2M162.00,7.10v3.2M190.20,245.10v-1.8M190.20,7.10v1.8M218.40,245.10v-3.2M218.40,7.10v3.2M246.60,245.10v-1.8M246.60,7.10v1.8M274.80,245.10v-3.2M274.80,7.10v3.2M303.00,245.10v-1.8M303.00,7.10v1.8M331.20,245.10v-3.2M331.20,7.10v3.2" stroke="#555" stroke-width="0.9" fill="none"/>
<g font-size="12.3"><text x="45" y="249.20" text-anchor="end">-400</text><text x="45" y="219.45" text-anchor="end">-300</text><text x="45" y="189.70" text-anchor="end">-200</text><text x="45" y="159.95" text-anchor="end">-100</text><text x="45" y="130.20" text-anchor="end">0</text><text x="45" y="100.45" text-anchor="end">100</text><text x="45" y="70.70" text-anchor="end">200</text><text x="45" y="40.95" text-anchor="end">300</text><text x="45" y="11.20" text-anchor="end">400</text><text x="48.80" y="257.8" text-anchor="middle">0</text><text x="105.20" y="257.8" text-anchor="middle">2000</text><text x="161.60" y="257.8" text-anchor="middle">4000</text><text x="218.00" y="257.8" text-anchor="middle">6000</text><text x="274.40" y="257.8" text-anchor="middle">8000</text><text x="330.80" y="257.8" text-anchor="middle">10000</text></g>
<text x="190" y="278.7" font-size="14.5" text-anchor="middle">Time (ps)</text>
<text transform="translate(11.3,118.1) rotate(-90)" font-size="14.5" text-anchor="middle">Rotational frequency (GHz)</text>
<text x="138.6" y="90.2" font-size="12.5">A-type</text>
<text x="139.3" y="165.1" font-size="12.5">B-type</text>
</g>
</svg>
</body></html>
